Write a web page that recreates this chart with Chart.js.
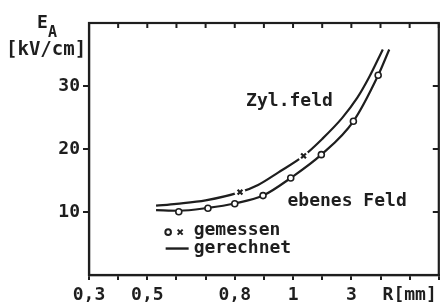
<!DOCTYPE html>
<html><head><meta charset="utf-8">
<script src="https://cdn.jsdelivr.net/npm/chart.js@4.4.1/dist/chart.umd.min.js"></script>
<style>html,body{margin:0;padding:0;background:#fff;}canvas{display:block;}</style>
</head><body>
<canvas id="c" width="445" height="307"></canvas>
<script>
// ---- data (x in axis-tick units: tick 0 = "0,3", tick 2 = "0,5", ...) ----
const xTickPositions = [0,1,2,3,4,5,6,7,8,9,10,11,12];
const xTickLabels    = ['0,3','','0,5','','','0,8','','1','','3','','R[mm]',''];
const yTickValues    = [10,20,30];

// computed curves ("gerechnet")
const zylX  = [2.3, 3.0, 4.0, 5.18, 5.8, 6.5, 7.36, 8.0, 8.68, 9.2, 9.6, 10.08];
const zylY  = [11.0, 11.3, 11.85, 13.15, 14.3, 16.3, 18.9, 21.6, 24.9, 28.1, 31.3, 35.8];
const ebenX = [2.3, 3.08, 4.08, 5.0, 5.97, 6.92, 7.97, 9.07, 9.92, 10.3];
const ebenY = [10.3, 10.2, 10.65, 11.35, 12.6, 15.4, 19.1, 24.4, 31.7, 35.8];

// measured points ("gemessen")
const measEbenX = [3.08, 4.08, 5.0, 5.97, 6.92, 7.97, 9.07, 9.92];
const measEbenY = [10.05, 10.6, 11.3, 12.6, 15.4, 19.1, 24.4, 31.7];
const measZylX  = [5.18, 7.36];
const measZylY  = [13.15, 18.9];

const INK = '#1e1e1e';
const FAM = '"DejaVu Sans Mono", monospace';
const pts = (xs, ys) => xs.map((x, i) => ({x, y: ys[i]}));

const framePlugin = {
  id: 'frame',
  beforeDatasetsDraw(chart) {
    const {ctx, chartArea: a, scales: {x, y}} = chart;
    ctx.save();
    ctx.strokeStyle = INK; ctx.lineWidth = 2.2;
    ctx.strokeRect(a.left, a.top, a.right - a.left, a.bottom - a.top);
    ctx.lineWidth = 2;
    ctx.beginPath();
    xTickPositions.forEach(v => { const p = x.getPixelForValue(v); ctx.moveTo(p, a.top); ctx.lineTo(p, a.top + 5); });
    yTickValues.forEach(v => { const p = y.getPixelForValue(v); ctx.moveTo(a.right, p); ctx.lineTo(a.right - 6, p); });
    ctx.stroke();
    ctx.restore();
  },
  afterDraw(chart) {
    const {ctx, scales: {x, y}} = chart;
    ctx.save();
    ctx.fillStyle = INK; ctx.strokeStyle = INK;
    ctx.textBaseline = 'alphabetic'; ctx.textAlign = 'left';
    // axis title E_A [kV/cm]
    ctx.font = 'bold 18px ' + FAM; ctx.fillText('E', 37, 28);
    ctx.font = 'bold 15px ' + FAM; ctx.fillText('A', 48, 37);
    ctx.font = 'bold 19px ' + FAM; ctx.fillText('[kV/cm]', 6, 55);
    // curve labels
    ctx.font = 'bold 18px ' + FAM;
    ctx.fillText('Zyl.feld', x.getPixelForValue(5.39), y.getPixelForValue(26.8));
    ctx.fillText('ebenes Feld', x.getPixelForValue(6.81), y.getPixelForValue(10.9));
    // legend
    const lx = x.getPixelForValue(3.59);
    ctx.fillText('gemessen', lx, y.getPixelForValue(6.3));
    ctx.fillText('gerechnet', lx, y.getPixelForValue(3.45));
    const sy1 = y.getPixelForValue(6.8), sy2 = y.getPixelForValue(4.2);
    ctx.lineWidth = 2;
    ctx.beginPath(); ctx.arc(lx - 25.5, sy1, 2.8, 0, Math.PI * 2); ctx.stroke();
    ctx.beginPath();
    ctx.moveTo(lx - 16, sy1 - 2.5); ctx.lineTo(lx - 11, sy1 + 2.5);
    ctx.moveTo(lx - 16, sy1 + 2.5); ctx.lineTo(lx - 11, sy1 - 2.5);
    ctx.stroke();
    ctx.lineWidth = 2.4;
    ctx.beginPath(); ctx.moveTo(lx - 28, sy2); ctx.lineTo(lx - 5, sy2); ctx.stroke();
    ctx.restore();
  }
};

new Chart(document.getElementById('c'), {
  type: 'scatter',
  data: {
    datasets: [
      { data: pts(measZylX, measZylY), pointStyle: 'crossRot', pointRadius: 3.4, borderColor: INK, borderWidth: 2.2, showLine: false, order: 0 },
      { data: pts(measEbenX, measEbenY), pointStyle: 'circle', pointRadius: 3, backgroundColor: '#fff', borderColor: INK, borderWidth: 1.6, showLine: false, order: 0 },
      { data: pts(measZylX, measZylY), pointStyle: 'circle', pointRadius: 5.5, backgroundColor: '#fff', borderColor: '#fff', borderWidth: 0, showLine: false, order: 1 },
      { data: pts(zylX, zylY), showLine: true, pointRadius: 0, borderColor: INK, borderWidth: 2.2, cubicInterpolationMode: 'monotone', fill: false, order: 2 },
      { data: pts(ebenX, ebenY), showLine: true, pointRadius: 0, borderColor: INK, borderWidth: 2.2, cubicInterpolationMode: 'monotone', fill: false, order: 2 }
    ]
  },
  options: {
    responsive: false, devicePixelRatio: 1, animation: false,
    layout: { padding: { top: 23, right: 2, left: 0, bottom: 0 } },
    plugins: { legend: { display: false }, tooltip: { enabled: false } },
    scales: {
      x: {
        type: 'linear', min: 0, max: 12, position: 'bottom',
        afterBuildTicks: s => { s.ticks = xTickPositions.map(v => ({value: v})); },
        afterFit: s => { s.height = 32; },
        ticks: { autoSkip: false, maxRotation: 0, padding: 5, color: INK,
                 font: { family: FAM, size: 18, weight: 'bold' },
                 callback: (v) => xTickLabels[xTickPositions.indexOf(v)] ?? '' },
        grid: { drawOnChartArea: false, drawTicks: true, tickLength: 5, color: INK, lineWidth: 2 },
        border: { display: true, color: INK, width: 2.2 }
      },
      y: {
        type: 'linear', min: 0, max: 40,
        afterBuildTicks: s => { s.ticks = yTickValues.map(v => ({value: v})); },
        afterFit: s => { s.width = 89; },
        ticks: { padding: 3, color: INK, font: { family: FAM, size: 18, weight: 'bold' } },
        grid: { drawOnChartArea: false, drawTicks: true, tickLength: 6, color: INK, lineWidth: 2 },
        border: { display: true, color: INK, width: 2.2 }
      }
    }
  },
  plugins: [framePlugin]
});
</script>
</body></html>
